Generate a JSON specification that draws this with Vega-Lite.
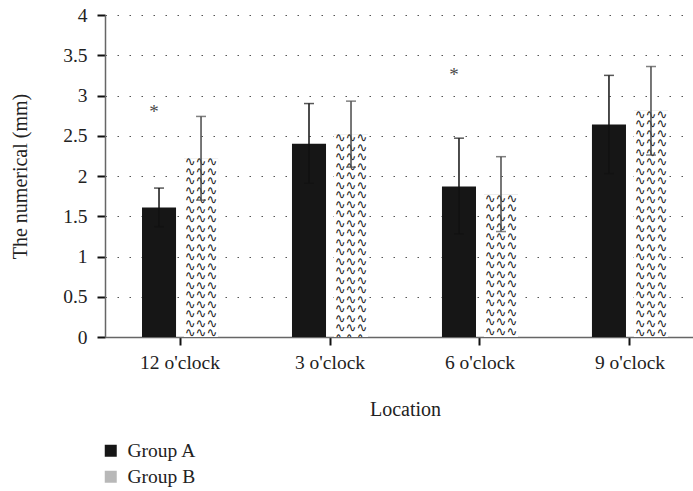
{
  "$schema": "https://vega.github.io/schema/vega-lite/v6.json",
  "width": 588,
  "height": 322,
  "autosize": {"type": "none"},
  "padding": {"left": 105, "top": 15, "right": 0, "bottom": 154},
  "background": "white",
  "config": {
    "view": {"stroke": null},
    "font": "Liberation Serif",
    "axis": {
      "domainColor": "#666666",
      "domainWidth": 1.5,
      "tickColor": "#111111",
      "tickWidth": 2,
      "tickSize": 8,
      "labelFont": "Liberation Serif",
      "labelFontSize": 19.5,
      "labelColor": "#222222",
      "titleFont": "Liberation Serif",
      "titleFontSize": 20,
      "titleFontWeight": "normal",
      "titleColor": "#222222"
    }
  },
  "data": {
    "values": [
      {"location": "12 o'clock", "group": "Group A", "mean": 1.61, "lower": 1.37, "upper": 1.85},
      {"location": "12 o'clock", "group": "Group B", "mean": 2.22, "lower": 1.70, "upper": 2.74},
      {"location": "3 o'clock", "group": "Group A", "mean": 2.40, "lower": 1.91, "upper": 2.90},
      {"location": "3 o'clock", "group": "Group B", "mean": 2.52, "lower": 2.11, "upper": 2.93},
      {"location": "6 o'clock", "group": "Group A", "mean": 1.87, "lower": 1.28, "upper": 2.47},
      {"location": "6 o'clock", "group": "Group B", "mean": 1.77, "lower": 1.31, "upper": 2.24},
      {"location": "9 o'clock", "group": "Group A", "mean": 2.64, "lower": 2.03, "upper": 3.25},
      {"location": "9 o'clock", "group": "Group B", "mean": 2.81, "lower": 2.26, "upper": 3.36}
    ]
  },
  "encoding": {
    "x": {
      "field": "location",
      "type": "nominal",
      "scale": {
        "domain": ["12 o'clock", "3 o'clock", "6 o'clock", "9 o'clock"],
        "range": [0, 600],
        "paddingInner": 0.493,
        "paddingOuter": 0.2467
      },
      "axis": {
        "title": "Location",
        "labelAngle": 0,
        "labelPadding": 8,
        "titlePadding": 28,
        "grid": false
      }
    },
    "xOffset": {
      "field": "group",
      "type": "nominal",
      "scale": {"domain": ["Group A", "Group B"], "paddingInner": 0.19, "paddingOuter": 0}
    }
  },
  "layer": [
    {
      "mark": {"type": "bar"},
      "encoding": {
        "y": {
          "field": "mean",
          "type": "quantitative",
          "scale": {"domain": [0, 4]},
          "axis": {
            "title": "The numerical (mm)",
            "values": [0, 0.5, 1, 1.5, 2, 2.5, 3, 3.5, 4],
            "format": ".1~f",
            "grid": true,
            "gridDash": [1.5, 10.5],
            "gridColor": "#555555",
            "gridWidth": 1.2,
            "labelPadding": 10,
            "titleColor": "#222222",
            "titleX": -85,
            "titleY": 161,
            "titleAlign": "center",
            "titleBaseline": "middle"
          }
        },
        "fill": {
          "field": "group",
          "type": "nominal",
          "scale": {"domain": ["Group A", "Group B"], "range": ["#161616", "#b8b8b8"]},
          "legend": {
            "title": null,
            "orient": "none",
            "legendX": -4,
            "legendY": 426,
            "padding": 0,
            "symbolType": "square",
            "symbolSize": 144,
            "symbolStrokeWidth": 0,
            "labelFont": "Liberation Serif",
            "labelFontSize": 19.5,
            "labelColor": "#222222",
            "labelOffset": 7,
            "rowPadding": 5
          }
        }
      }
    },
    {
      "transform": [{"filter": "datum.group === 'Group B'"}],
      "mark": {"type": "bar", "fill": "white"},
      "encoding": {"y": {"field": "mean", "type": "quantitative"}}
    },
    {
      "transform": [{"filter": "datum.group === 'Group B'"}],
      "mark": {
        "type": "text",
        "text": ["∿∿∿", "∿∿∿", "∿∿∿", "∿∿∿", "∿∿∿", "∿∿∿", "∿∿∿", "∿∿∿", "∿∿∿", "∿∿∿", "∿∿∿", "∿∿∿", "∿∿∿", "∿∿∿", "∿∿∿", "∿∿∿", "∿∿∿", "∿∿∿", "∿∿∿", "∿∿∿", "∿∿∿", "∿∿∿", "∿∿∿", "∿∿∿"],
        "font": "DejaVu Sans",
        "fontSize": 13,
        "lineHeight": 9.5,
        "baseline": "top",
        "align": "center",
        "dy": -2,
        "fill": "#1a1a1a",
        "clip": true
      },
      "encoding": {"y": {"field": "mean", "type": "quantitative"}}
    },
    {
      "mark": {"type": "rule", "strokeWidth": 1.5},
      "encoding": {
        "y": {"field": "lower", "type": "quantitative"},
        "y2": {"field": "upper"},
        "color": {"field": "group", "type": "nominal", "scale": {"domain": ["Group A", "Group B"], "range": ["#111111", "#4a4a4a"]}, "legend": null}
      }
    },
    {
      "mark": {"type": "tick", "size": 10, "thickness": 1.5},
      "encoding": {
        "y": {"field": "upper", "type": "quantitative"},
        "color": {"field": "group", "type": "nominal", "legend": null}
      }
    },
    {
      "mark": {"type": "tick", "size": 10, "thickness": 1.5},
      "encoding": {
        "y": {"field": "lower", "type": "quantitative"},
        "color": {"field": "group", "type": "nominal", "legend": null}
      }
    },
    {
      "data": {
        "values": [
          {"location": "12 o'clock", "group": "Group A", "level": 2.80, "label": "*"},
          {"location": "6 o'clock", "group": "Group A", "level": 3.25, "label": "*"}
        ]
      },
      "mark": {"type": "text", "fontSize": 19, "baseline": "middle", "align": "center", "dx": -5, "fill": "#4a4a4a"},
      "encoding": {
        "y": {"field": "level", "type": "quantitative"},
        "text": {"field": "label", "type": "nominal"}
      }
    }
  ]
}
